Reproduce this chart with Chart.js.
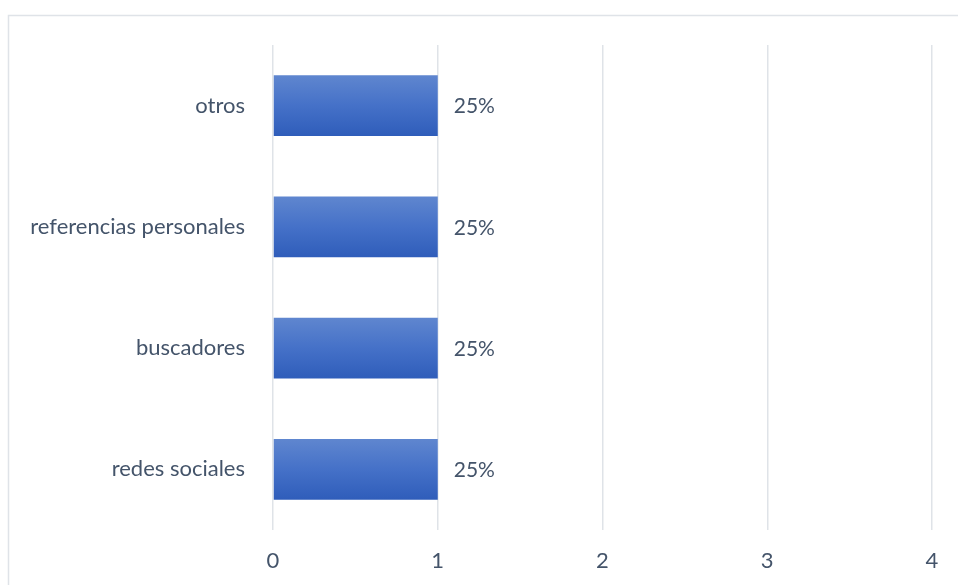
<!DOCTYPE html>
<html lang="es">
<head>
    <meta charset="UTF-8">
    <title>Fuentes</title>
    <script src="https://cdn.jsdelivr.net/npm/chart.js"></script>
    <style>
        body {
            margin: 0;
            background-color: #ffffff;
        }

        .chart {
            position: relative;
            width: 958px;
            height: 585px;
        }
    </style>
</head>
<body>
    <div class="chart">
        <canvas id="fuentesChart"></canvas>
    </div>

    <script>
        // categorías de arriba hacia abajo
        const categorias = ['otros', 'referencias personales', 'buscadores', 'redes sociales'];
        const respuestas = [1, 1, 1, 1];
        const ticksX = [0, 1, 2, 3, 4];

        const total = respuestas.reduce((a, b) => a + b, 0);
        const textColor = '#44546a';
        const gridColor = '#dfe3e8';
        const fuente = { family: 'Lato', size: 22 };

        // marco gris alrededor del gráfico
        const marco = {
            id: 'marco',
            beforeDraw(chart) {
                const ctx = chart.ctx;
                ctx.save();
                ctx.strokeStyle = gridColor;
                ctx.lineWidth = 1.5;
                ctx.strokeRect(8.5, 15.5, chart.width + 10, chart.height + 10);
                ctx.restore();
            }
        };

        // porcentaje a la derecha de cada barra
        const etiquetas = {
            id: 'etiquetas',
            afterDatasetsDraw(chart) {
                const ctx = chart.ctx;
                const meta = chart.getDatasetMeta(0);
                ctx.save();
                ctx.font = '21px Lato';
                ctx.fillStyle = textColor;
                ctx.textBaseline = 'middle';
                meta.data.forEach((bar, i) => {
                    const pct = Math.round(respuestas[i] / total * 100) + '%';
                    ctx.fillText(pct, bar.x + 16, bar.y + 1);
                });
                ctx.restore();
            }
        };

        function degradado(context) {
            const chart = context.chart;
            if (!chart.chartArea) return '#4472c4';
            const y = chart.scales.y;
            const centro = y.getPixelForValue(context.dataIndex);
            const banda = (y.bottom - y.top) / categorias.length;
            const mitad = banda * 0.5 / 2;
            const g = chart.ctx.createLinearGradient(0, centro - mitad, 0, centro + mitad);
            g.addColorStop(0, '#5f86cf');
            g.addColorStop(0.5, '#4571c8');
            g.addColorStop(1, '#2f5dba');
            return g;
        }

        const ctx = document.getElementById('fuentesChart').getContext('2d');
        new Chart(ctx, {
            type: 'bar',
            data: {
                labels: categorias,
                datasets: [{
                    data: respuestas,
                    backgroundColor: degradado,
                    borderWidth: 0,
                    barPercentage: 0.5,
                    categoryPercentage: 1
                }]
            },
            options: {
                indexAxis: 'y',
                responsive: true,
                maintainAspectRatio: false,
                animation: false,
                layout: { padding: { left: 0, top: 45, right: 26, bottom: 0 } },
                plugins: {
                    legend: { display: false },
                    tooltip: { enabled: false }
                },
                scales: {
                    x: {
                        min: 0,
                        max: 4,
                        afterBuildTicks: (scale) => {
                            scale.ticks = ticksX.map(v => ({ value: v }));
                        },
                        afterFit: (scale) => { scale.height = 55; },
                        grid: { color: gridColor, lineWidth: 1.5, drawTicks: false },
                        border: { display: false },
                        ticks: { color: textColor, font: fuente, padding: 18 }
                    },
                    y: {
                        afterFit: (scale) => { scale.width = 273; },
                        grid: { display: false, drawTicks: false },
                        border: { display: false },
                        ticks: { color: textColor, font: fuente, padding: 28 }
                    }
                }
            },
            plugins: [marco, etiquetas]
        });
    </script>
</body>
</html>
